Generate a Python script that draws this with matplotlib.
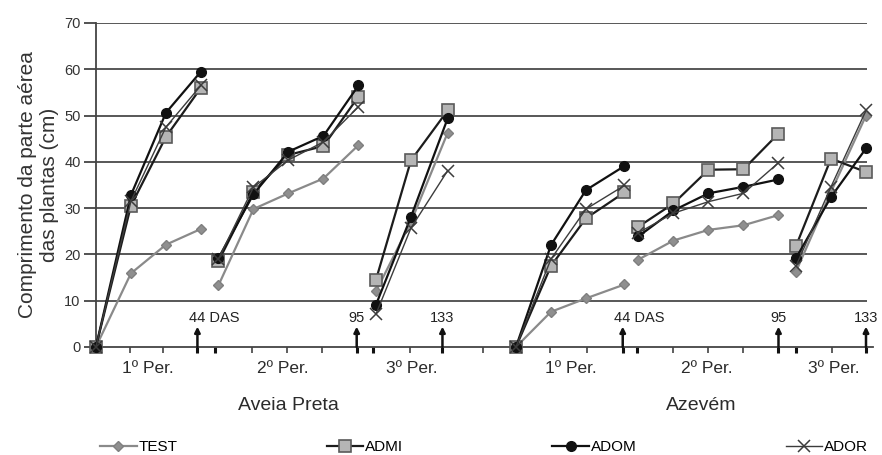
import matplotlib
matplotlib.use('Agg')
import matplotlib.pyplot as plt
from matplotlib.lines import Line2D

plt.rcParams['font.family'] = ['Liberation Sans', 'DejaVu Sans']

# sampling positions on the category axis (one list per period)
x_periods = [
    [0, 1, 2, 3], [3.5, 4.5, 5.5, 6.5, 7.5], [8, 9, 10.05],          # Aveia Preta
    [12, 13, 14, 15.1], [15.5, 16.5, 17.5, 18.5, 19.5], [20, 21, 22],  # Azevém
]

test = [
    [0, 15.9, 22.1, 25.5], [13.3, 29.8, 33.2, 36.4, 43.6], [12.0, 27.0, 46.3],
    [0, 7.6, 10.5, 13.5], [18.9, 23.0, 25.3, 26.3, 28.5], [16.3, 33.5, 50.0],
]
admi = [
    [0, 30.5, 45.4, 56.0], [18.5, 33.5, 41.5, 43.4, 54.1], [14.5, 40.3, 51.1],
    [0, 17.5, 27.8, 33.4], [26.0, 31.0, 38.3, 38.4, 46.1], [21.8, 40.7, 37.8],
]
adom = [
    [0, 32.8, 50.6, 59.5], [19.2, 33.0, 42.2, 45.6, 56.5], [9.1, 28.1, 49.4],
    [0, 22.0, 33.9, 39.1], [23.9, 29.5, 33.2, 34.6, 36.2], [19.2, 32.4, 42.9],
]
ador = [
    [0, 31.5, 47.5, 56.5], [19.0, 34.5, 40.4, 44.3, 51.9], [7.1, 25.7, 38.1],
    [0, 19.0, 29.8, 34.9], [24.7, 28.9, 31.4, 33.2, 39.8], [17.5, 34.6, 51.1],
]

period_labels = ['1º Per.', '2º Per.', '3º Per.', '1º Per.', '2º Per.', '3º Per.']
period_pos = [1.49, 5.34, 9.03, 13.57, 17.46, 21.09]
group_labels = ['Aveia Preta', 'Azevém']
group_pos = [5.49, 17.29]
arrow_pos = [2.9, 7.45, 9.9, 15.05, 19.5, 22.0]
arrow_labels = ['44 DAS', '95', '133', '44 DAS', '95', '133']
minor_ticks = [0.97, 1.91, 4.46, 5.46, 6.46, 8.97, 11.06, 11.91, 12.97, 14.03,
               16.49, 17.49, 18.49, 21.03]
major_ticks = [2.9, 3.4, 7.45, 7.91, 9.9, 15.05, 15.46, 19.5, 20.0, 22.0]

styles = {
    'TEST': dict(color='#8a8a8a', lw=1.6, marker='D', ms=5.5, mfc='#8f8f8f', mec='#7f7f7f'),
    'ADMI': dict(color='#1c1c1c', lw=1.6, marker='s', ms=8, mfc='#b5b5b5', mec='#5a5a5a', mew=1.2),
    'ADOM': dict(color='#111111', lw=1.6, marker='o', ms=7, mfc='#111111', mec='#111111'),
    'ADOR': dict(color='#3c3c3c', lw=1.0, marker='x', ms=9, mew=1.1, mec='#3c3c3c'),
}
series = {'TEST': test, 'ADMI': admi, 'ADOM': adom, 'ADOR': ador}

fig = plt.figure(figsize=(8.82, 4.55), dpi=100)
ax = fig.add_axes([0.102, 0.2374, 0.8878, 0.7121])
ax.set_xlim(-0.17, 22.2)
ax.set_ylim(0, 70)

# horizontal grid
ax.hlines(range(10, 80, 10), 0, 22.03, color='#4a4a4a', lw=1.3, zorder=1)

for name, data in series.items():
    for xs, ys in zip(x_periods, data):
        ax.plot(xs, ys, clip_on=False, zorder=3, **styles[name])

# axes
for s in ['top', 'right']:
    ax.spines[s].set_visible(False)
ax.spines['left'].set_position(('data', 0))
ax.spines['left'].set_color('#444444')
ax.spines['left'].set_linewidth(1.3)
ax.spines['bottom'].set_color('#444444')
ax.spines['bottom'].set_linewidth(1.3)
ax.set_yticks(range(0, 80, 10))
ax.tick_params(axis='y', length=9, width=1.3, color='#444444', labelsize=10.5,
               labelcolor='#333333', pad=2)
ax.set_xticks(major_ticks)
ax.set_xticklabels([])
ax.set_xticks(minor_ticks, minor=True)
ax.tick_params(axis='x', which='major', length=4, width=2.2, color='#111111')
ax.tick_params(axis='x', which='minor', length=4, width=1.1, color='#333333')

ax.set_ylabel('Comprimento da parte aérea\ndas plantas (cm)', fontsize=15,
              color='#333333', linespacing=1.2, labelpad=4)

# harvest arrows
for xa, lab in zip(arrow_pos, arrow_labels):
    ax.annotate('', xy=(xa, 4.4), xytext=(xa, 0),
                arrowprops=dict(arrowstyle='-|>', lw=1.8, color='#111111',
                                mutation_scale=8, shrinkA=0, shrinkB=0),
                annotation_clip=False, zorder=4)
    if 'DAS' in lab:
        ax.text(xa - 0.25, 6.3, lab, ha='left', va='center', fontsize=10.5,
                color='#222222', family=['Liberation Sans Narrow', 'Liberation Sans'])
    else:
        ax.text(xa, 6.3, lab, ha='center', va='center', fontsize=10.5,
                color='#222222', family=['Liberation Sans Narrow', 'Liberation Sans'])

for xp, lab in zip(period_pos, period_labels):
    ax.text(xp, -4.6, lab, ha='center', va='center', fontsize=12.5,
            color='#2b2b2b', clip_on=False)
for xg, lab in zip(group_pos, group_labels):
    ax.text(xg, -12.6, lab, ha='center', va='center', fontsize=14,
            color='#2b2b2b', clip_on=False)

handles = [Line2D([], [], **styles[n]) for n in series]
fig.legend(handles, list(series), loc='center', ncol=4, mode='expand',
           bbox_to_anchor=(0.1134, 0.0176, 0.8707, 0.0), frameon=False,
           handlelength=2.4, handletextpad=0.1, borderpad=0, borderaxespad=0,
           prop={'family': ['Liberation Sans Narrow', 'Liberation Sans'], 'size': 11})

fig.savefig('out.png', dpi=100)
